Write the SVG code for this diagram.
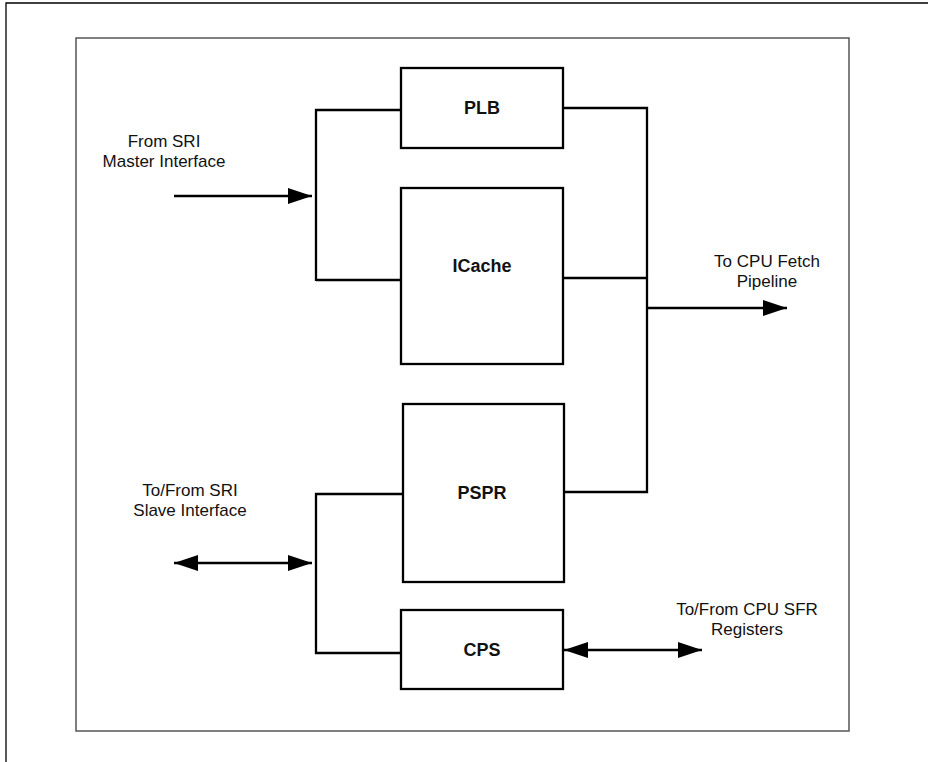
<svg xmlns="http://www.w3.org/2000/svg" width="928" height="762" viewBox="0 0 928 762">
<style>
.frame{fill:none;stroke:#000;stroke-width:1.3}
.inner{fill:none;stroke:#555;stroke-width:1.5}
.box{fill:#fff;stroke:#000;stroke-width:2.3}
.wire{fill:none;stroke:#000;stroke-width:2.3}
.lbl{font-family:"Liberation Sans",Arial,sans-serif;font-size:17px;fill:#111;text-anchor:middle}
.name{font-family:"Liberation Sans",Arial,sans-serif;font-size:18px;font-weight:bold;fill:#111;text-anchor:middle}
</style>
<defs>
<marker id="ah" markerWidth="24" markerHeight="16" refX="24" refY="8" orient="auto-start-reverse" markerUnits="userSpaceOnUse">
<path d="M0,0 L24,8 L0,16 Z" fill="#000"/>
</marker>
</defs>
<rect width="928" height="762" fill="#fff"/>
<path class="frame" d="M6,762 V3 H928"/>
<rect class="inner" x="76" y="38" width="773" height="693"/>

<g id="connectors">
<path class="wire" d="M401,110 H316 V281 M316,280 H401"/>
<path class="wire" d="M174,196 H312" marker-end="url(#ah)"/>
<path class="wire" d="M563,108 H647 V492 H564 M563,278 H647"/>
<path class="wire" d="M647,308 H787" marker-end="url(#ah)"/>
<path class="wire" d="M403,494 H316 V653 H401"/>
<path class="wire" d="M174,563 H312" marker-start="url(#ah)" marker-end="url(#ah)"/>
<path class="wire" d="M564,650 H702" marker-start="url(#ah)" marker-end="url(#ah)"/>
</g>

<g id="plb">
<rect class="box" x="401" y="68" width="162" height="80"/>
<text class="name" x="482" y="114">PLB</text>
</g>
<g id="icache">
<rect class="box" x="401" y="188" width="162" height="176"/>
<text class="name" x="482" y="272">ICache</text>
</g>
<g id="pspr">
<rect class="box" x="403" y="404" width="161" height="178"/>
<text class="name" x="482" y="499">PSPR</text>
</g>
<g id="cps">
<rect class="box" x="401" y="610" width="162" height="79"/>
<text class="name" x="482" y="656">CPS</text>
</g>

<g id="labels">
<text class="lbl" x="164" y="147">From SRI</text>
<text class="lbl" x="164" y="167">Master Interface</text>
<text class="lbl" x="190" y="496">To/From SRI</text>
<text class="lbl" x="190" y="516">Slave Interface</text>
<text class="lbl" x="767" y="267">To CPU Fetch</text>
<text class="lbl" x="767" y="287">Pipeline</text>
<text class="lbl" x="747" y="615">To/From CPU SFR</text>
<text class="lbl" x="747" y="635">Registers</text>
</g>
</svg>
